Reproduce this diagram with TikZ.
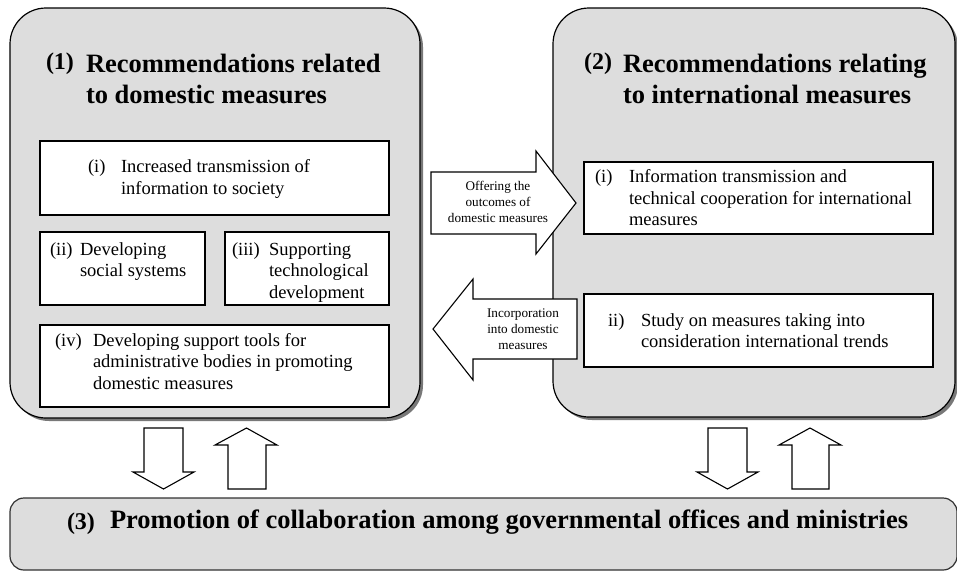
\documentclass[tikz,border=0pt]{standalone}
\usepackage{fontspec}
\setmainfont{Liberation Serif}
\usetikzlibrary{shadows}
\definecolor{panelgray}{RGB}{221,221,221}
\definecolor{shadowgray}{RGB}{120,120,120}
\definecolor{barline}{RGB}{50,50,50}
\tikzset{
  panel/.style={draw=black, line width=1.2pt, fill=panelgray, rounded corners=36pt,
    inner sep=0pt, outer sep=0pt,
    drop shadow={shadow xshift=3pt, shadow yshift=-3pt, fill=shadowgray, opacity=1}},
  barbox/.style={draw=barline, line width=1.2pt, fill=panelgray, rounded corners=14pt,
    inner sep=0pt, outer sep=0pt},
  itembox/.style={draw=black, line width=1.2pt, fill=white, inner sep=0pt, outer sep=0pt},
  blockarrow/.style={draw=black, line width=1.1pt, fill=white, line join=miter},
  txt/.style={inner sep=0pt, outer sep=0pt, font=\fontsize{18.5}{21.5}\selectfont},
  small/.style={inner sep=0pt, outer sep=0pt, align=center, font=\fontsize{13.2}{16.2}\selectfont},
  title/.style={inner sep=0pt, outer sep=0pt, font=\bfseries\fontsize{26.5}{31}\selectfont},
  num/.style={inner sep=0pt, outer sep=0pt, font=\bfseries\fontsize{24}{28}\selectfont},
}
\begin{document}
\begin{tikzpicture}[x=1pt, y=-1pt]
\useasboundingbox (0,0) rectangle (957,571);

% ---------- panels ----------
\node[panel, minimum width=410pt, minimum height=410pt, anchor=north west] (p1) at (10,8) {};
\node[panel, minimum width=402pt, minimum height=409pt, anchor=north west] (p2) at (553,8) {};
\node[barbox, minimum width=947pt, minimum height=72pt, anchor=north west] (p3) at (10,498) {};

% ---------- titles ----------
\node[num, anchor=base west] (n1) at (46,69) {(1)};
\node[title, anchor=base west] (h1) at (86,72) {\begin{tabular}[t]{@{}l@{}}Recommendations related\\to domestic measures\end{tabular}};
\node[num, anchor=base west] (n2) at (584,69) {(2)};
\node[title, anchor=base west] (h2) at (623,72) {\begin{tabular}[t]{@{}l@{}}Recommendations relating\\to international measures\end{tabular}};
\node[num, anchor=base west] (n3) at (67,529) {(3)};
\node[title, anchor=base west] (h3) at (110,528) {Promotion of collaboration among governmental offices and ministries};

% ---------- left item boxes ----------
\node[itembox, minimum width=349pt, minimum height=74pt, anchor=north west] (b1) at (40,141) {};
\node[itembox, minimum width=165pt, minimum height=73pt, anchor=north west] (b2) at (40,232) {};
\node[itembox, minimum width=164pt, minimum height=73pt, anchor=north west] (b3) at (225,232) {};
\node[itembox, minimum width=349pt, minimum height=82pt, anchor=north west] (b4) at (40,325) {};

\node[txt, anchor=base west] (l1) at (88,172.5) {(i)};
\node[txt, anchor=base west] (t1) at (121,172.5) {\begin{tabular}[t]{@{}l@{}}Increased transmission of\\information to society\end{tabular}};
\node[txt, anchor=base west] (l2) at (50,255) {(ii)};
\node[txt, anchor=base west] (t2) at (80,255) {\begin{tabular}[t]{@{}l@{}}Developing\\social systems\end{tabular}};
\node[txt, anchor=base west] (l3) at (232,255) {(iii)};
\node[txt, anchor=base west] (t3) at (269,255) {\begin{tabular}[t]{@{}l@{}}Supporting\\technological\\development\end{tabular}};
\node[txt, anchor=base west] (l4) at (55,346) {(iv)};
\node[txt, anchor=base west] (t4) at (93,346) {\begin{tabular}[t]{@{}l@{}}Developing support tools for\\administrative bodies in promoting\\domestic measures\end{tabular}};

% ---------- right item boxes ----------
\node[itembox, minimum width=349pt, minimum height=72pt, anchor=north west] (r1) at (584,162) {};
\node[itembox, minimum width=349pt, minimum height=73pt, anchor=north west] (r2) at (584,294) {};
\node[txt, anchor=base west] (rl1) at (595,182.5) {(i)};
\node[txt, anchor=base west] (rt1) at (629,182.5) {\begin{tabular}[t]{@{}l@{}}Information transmission and\\technical cooperation for international\\measures\end{tabular}};
\node[txt, anchor=base west] (rl2) at (608,326) {ii)};
\node[txt, anchor=base west] (rt2) at (641,326) {\begin{tabular}[t]{@{}l@{}}Study on measures taking into\\consideration international trends\end{tabular}};

% ---------- horizontal block arrows ----------
\draw[blockarrow] (431,172) -- (536,172) -- (536,151) -- (576,203) -- (536,254) -- (536,234) -- (431,234) -- cycle;
\node[small, anchor=base] (a1) at (498,190) {\begin{tabular}[t]{@{}c@{}}Offering the\\outcomes of\\domestic measures\end{tabular}};
\draw[blockarrow] (433,329) -- (473,279) -- (473,299) -- (577,299) -- (577,359) -- (473,359) -- (473,380) -- cycle;
\node[small, anchor=base] (a2) at (523,317) {\begin{tabular}[t]{@{}c@{}}Incorporation\\into domestic\\measures\end{tabular}};

% ---------- vertical block arrows ----------
\draw[blockarrow] (144,428) -- (183,428) -- (183,472) -- (194,472) -- (163.5,489) -- (133,472) -- (144,472) -- cycle;
\draw[blockarrow] (228,489) -- (266,489) -- (266,445) -- (277,445) -- (246.5,428) -- (215,445) -- (228,445) -- cycle;
\draw[blockarrow] (708,428) -- (747,428) -- (747,472) -- (758,472) -- (727.5,489) -- (697,472) -- (708,472) -- cycle;
\draw[blockarrow] (792,489) -- (829,489) -- (829,445) -- (841,445) -- (810,428) -- (779,445) -- (792,445) -- cycle;
\end{tikzpicture}
\end{document}
